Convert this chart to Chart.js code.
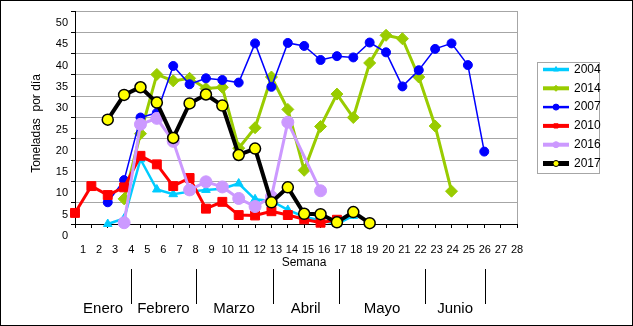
<!DOCTYPE html>
<html lang="es">
<head>
<meta charset="utf-8">
<title>Toneladas por día</title>
<script src="https://cdn.jsdelivr.net/npm/chart.js@4.4.1/dist/chart.umd.min.js"></script>
<style>
  html, body { margin: 0; padding: 0; background: #fff; }
  #caja { width: 633px; height: 326px; }
</style>
</head>
<body>
<div id="caja"><canvas id="grafico" width="633" height="326"></canvas></div>
<script>
// Semanas del eje X
const semanas = ['1', '2', '3', '4', '5', '6', '7', '8', '9', '10', '11', '12', '13', '14',
                 '15', '16', '17', '18', '19', '20', '21', '22', '23', '24', '25', '26', '27', '28'];

// Toneladas por día, una serie por año (null = sin dato)
const serie2004 = [null, null, 0, 1.3, 15.2, 8.1, 7.0, 7.6, 8.0, 8.3, 9.5, 5.8, 5.4, 3.3, 1.7, 0.8, 0, 1.9];
const serie2014 = [null, null, null, 5.9, 21.2, 35.1, 33.6, 34.2, 31.8, 32.1, 17.8, 22.6, 34.5, 26.9,
                   12.6, 22.9, 30.5, 25.0, 37.8, 44.3, 43.5, 34.5, 23.0, 7.7];
const serie2007 = [null, null, 5.1, 10.3, 25.0, 26.1, 37.1, 32.8, 34.2, 33.8, 33.2, 42.4, 32.2, 42.5,
                   41.8, 38.5, 39.4, 39.1, 42.6, 40.3, 32.3, 36.1, 41.1, 42.4, 37.3, 17.0];
const serie2010 = [2.6, 8.9, 6.8, 8.6, 16.0, 14.0, 8.9, 10.8, 3.6, 5.2, 2.1, 2.0, 3.0, 2.1, 1.1, 0.3, 1.0];
const serie2016 = [null, null, null, 0.3, 23.4, 24.8, 19.4, 8.0, 9.9, 8.7, 6.0, 4.1, 6.4, 23.9, null, 7.8];
const serie2017 = [null, null, 24.5, 30.3, 32.1, 28.5, 20.2, 28.3, 30.4, 27.8, 16.2, 17.7, 5.1, 8.6,
                   2.4, 2.3, 0.4, 2.8, 0.2];

// Meses debajo del eje y dónde va la raya que cierra cada uno (en posiciones de etiqueta)
const meses = ['Enero', 'Febrero', 'Marzo', 'Abril', 'Mayo', 'Junio'];
const finMes = [4, 8, 12.8, 16.9, 22.3, 26];

const fuente = '"Liberation Sans", Arial, sans-serif';
const gris = '#a6a6a6';
const desplazY = 12;  // las etiquetas del eje Y van corridas media división hacia abajo

// Estilo de cada año: color, grosor, marcador
const series = [
  { label: '2004', data: serie2004, color: '#00ccff', fondo: '#00ccff', ancho: 2.5, punto: 'triangle', radio: 5, orden: 6 },
  { label: '2014', data: serie2014, color: '#99cc00', fondo: '#99cc00', ancho: 3, punto: 'rectRot', radio: 6, orden: 5 },
  { label: '2007', data: serie2007, color: '#0000ff', fondo: '#0000ff', ancho: 1.5, punto: 'circle', radio: 4.5, orden: 4 },
  { label: '2010', data: serie2010, color: '#ff0000', fondo: '#ff0000', ancho: 3, punto: 'rect', radio: 6.3, orden: 3 },
  { label: '2016', data: serie2016, color: '#cc99ff', fondo: '#cc99ff', ancho: 3, punto: 'circle', radio: 6, orden: 2 },
  { label: '2017', data: serie2017, color: '#000000', fondo: '#ffff00', ancho: 4, punto: 'circle', radio: 5.5, orden: 1 }
];

// Marco exterior, etiquetas de semana, títulos, meses y leyenda dibujados a mano
const marco = {
  id: 'marco',
  afterDraw(chart) {
    const { ctx, chartArea: area } = chart;
    // las etiquetas de semana reparten el ancho en 27.5 huecos
    const paso = (area.right - area.left) / 27.5;
    const posEtiqueta = w => area.left + (w - 0.5) * paso;
    ctx.save();

    // borde derecho del área de trazado
    ctx.strokeStyle = gris;
    ctx.lineWidth = 1;
    const der = Math.round(area.right) + 0.5;
    ctx.beginPath();
    ctx.moveTo(der, area.top);
    ctx.lineTo(der, area.bottom);
    ctx.stroke();

    // marco de todo el gráfico
    ctx.strokeStyle = '#000';
    ctx.strokeRect(0.5, 0.5, chart.width - 1, chart.height - 1);

    ctx.fillStyle = '#000';
    ctx.textAlign = 'center';
    ctx.textBaseline = 'middle';

    // números de semana
    ctx.font = '11px ' + fuente;
    semanas.forEach((s, i) => ctx.fillText(s, posEtiqueta(i + 1), area.bottom + 26));

    // título del eje Y
    ctx.font = '12px ' + fuente;
    ctx.save();
    ctx.translate(37, (area.top + area.bottom) / 2 + 6);
    ctx.rotate(-Math.PI / 2);
    ctx.fillText('Toneladas  por día', 0, 0);
    ctx.restore();

    // título del eje X
    ctx.fillText('Semana', (area.left + area.right) / 2 + paso / 2, area.bottom + 39);

    // separadores y nombres de los meses
    const bordes = [area.left].concat(finMes.map(posEtiqueta));
    ctx.beginPath();
    bordes.slice(1).forEach(b => {
      const px = Math.round(b) + 0.5;
      ctx.moveTo(px, area.bottom + 45);
      ctx.lineTo(px, area.bottom + 80);
    });
    ctx.stroke();
    ctx.font = '15px ' + fuente;
    meses.forEach((m, i) => {
      ctx.fillText(m, (bordes[i] + bordes[i + 1]) / 2, area.bottom + 85);
    });

    // leyenda
    const lx = Math.round(area.right) + 20;
    const ly = 62;
    ctx.strokeStyle = gris;
    ctx.strokeRect(lx + 0.5, ly + 0.5, 62, 111);
    ctx.font = '12px ' + fuente;
    ctx.textAlign = 'left';
    series.forEach((s, i) => {
      const y = ly + 7.5 + i * 18.8;
      ctx.strokeStyle = s.color;
      ctx.lineWidth = s.ancho + 1;
      ctx.beginPath();
      ctx.moveTo(lx + 6, y);
      ctx.lineTo(lx + 32, y);
      ctx.stroke();
      ctx.fillStyle = s.fondo;
      ctx.lineWidth = 1;
      Chart.helpers.drawPoint(ctx, { pointStyle: s.punto, radius: 3, borderWidth: 1, rotation: 0 }, lx + 19, y);
      ctx.fillStyle = '#000';
      ctx.fillText(s.label, lx + 37, y);
    });

    ctx.restore();
  }
};

new Chart(document.getElementById('grafico'), {
  type: 'line',
  data: {
    labels: semanas,
    datasets: series.map(s => ({
      label: s.label,
      data: s.data,
      borderColor: s.color,
      backgroundColor: s.fondo,
      borderWidth: s.ancho,
      pointStyle: s.punto,
      pointRadius: s.radio,
      pointBackgroundColor: s.fondo,
      pointBorderColor: s.color,
      pointBorderWidth: s.label === '2017' ? 1.5 : 1,
      spanGaps: true,
      tension: 0,
      clip: false,
      order: s.orden
    }))
  },
  options: {
    responsive: false,
    animation: false,
    devicePixelRatio: 1,
    layout: { padding: { left: 0, right: 116, top: 11, bottom: 0 } },
    plugins: { legend: { display: false }, tooltip: { enabled: false } },
    scales: {
      x: {
        type: 'category',
        offset: false,
        afterFit(scale) { scale.height = 102; },
        grid: { drawOnChartArea: false, tickColor: '#000', tickLength: 4 },
        border: { color: '#000' },
        ticks: { display: false, autoSkip: false }
      },
      y: {
        min: 0,
        max: 50,
        afterFit(scale) { scale.width = 75; },
        grid: { color: gris, tickColor: '#000', tickLength: 4 },
        border: { color: '#000' },
        ticks: {
          stepSize: 5, color: '#000', font: { family: fuente, size: 11 },
          padding: 3, labelOffset: desplazY
        }
      }
    }
  },
  plugins: [marco]
});
</script>
</body>
</html>
